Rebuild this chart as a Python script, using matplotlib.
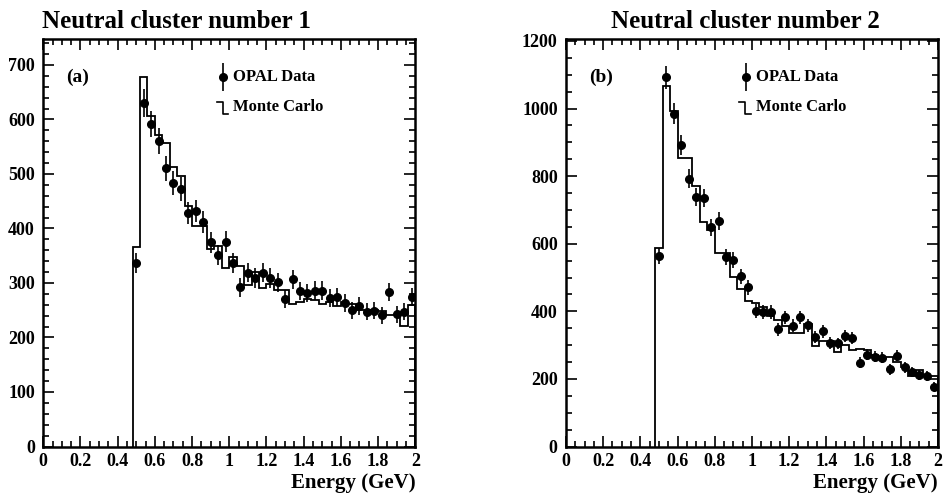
import numpy as np
import matplotlib
matplotlib.use("Agg")
import matplotlib.pyplot as plt
from matplotlib.ticker import MultipleLocator

plt.rcParams["font.family"] = ["Liberation Serif", "DejaVu Serif"]
plt.rcParams["font.weight"] = "bold"

# 0.04 GeV bins from 0.48 to 2.0 GeV
bin_edges = np.round(np.arange(0.48, 2.0001, 0.04), 2)
bin_centres = 0.5 * (bin_edges[:-1] + bin_edges[1:])

# neutral cluster 1
data1 = [336, 630, 592, 561, 510, 484, 472, 428, 432, 412,
         375, 351, 376, 337, 292, 319, 309, 319, 309, 301,
         270, 307, 285, 282, 286, 286, 272, 274, 263, 250,
         258, 247, 249, 241, 283, 243, 247, 275]
mc1 = [366, 678, 607, 572, 557, 512, 496, 441, 405, 405,
       363, 367, 327, 348, 331, 296, 321, 290, 298, 287,
       287, 261, 266, 270, 268, 261, 266, 257, 266, 261,
       250, 250, 250, 249, 241, 241, 221, 260]

# neutral cluster 2
data2 = [563, 1092, 985, 893, 793, 738, 735, 649, 667, 561,
         551, 504, 471, 401, 398, 398, 347, 382, 357, 382,
         359, 323, 341, 307, 305, 327, 320, 248, 272, 265,
         263, 228, 268, 234, 221, 211, 209, 177]
mc2 = [586, 1066, 993, 853, 853, 770, 665, 640, 573, 573,
       502, 465, 430, 425, 413, 386, 374, 358, 335, 335,
       362, 297, 313, 313, 280, 300, 285, 290, 286, 272,
       264, 264, 250, 234, 209, 226, 210, 208]

panels = [
    ("Neutral cluster number 1", "(a)", data1, mc1, 747, 100, 20),
    ("Neutral cluster number 2", "(b)", data2, mc2, 1205, 200, 50),
]
title_x = [0.045, 0.648]
axes_left = [0.0459, 0.6002]

fig = plt.figure(figsize=(9.43, 4.98), dpi=100)

for i, (title, tag, data, mc, ymax, ymaj, ymin) in enumerate(panels):
    ax = fig.add_axes([axes_left[i], 0.1034, 0.3945, 0.8177])
    data = np.array(data, dtype=float)

    ax.stairs(mc, bin_edges, baseline=0, color="black", linewidth=1.3)
    ax.errorbar(bin_centres, data, yerr=np.sqrt(data), fmt="o", color="black",
                markersize=5.5, elinewidth=1.2, capsize=0)

    ax.set_xlim(0, 2)
    ax.set_ylim(0, ymax)
    ax.xaxis.set_minor_locator(MultipleLocator(0.05))
    ax.yaxis.set_major_locator(MultipleLocator(ymaj))
    ax.yaxis.set_minor_locator(MultipleLocator(ymin))
    ax.set_xticks(np.round(np.arange(0, 2.01, 0.2), 1))
    ax.set_xticklabels(["0", "0.2", "0.4", "0.6", "0.8", "1",
                        "1.2", "1.4", "1.6", "1.8", "2"])
    ax.tick_params(which="both", direction="in", top=True, right=True,
                   labelsize=13, width=1.2)
    ax.tick_params(which="major", length=8, pad=6)
    ax.tick_params(which="minor", length=4)
    ax.tick_params(axis="x", which="major", pad=5)
    for lbl in ax.get_xticklabels() + ax.get_yticklabels():
        lbl.set_fontweight("bold")
    for sp in ax.spines.values():
        sp.set_linewidth(1.8)

    ax.set_xlabel("Energy (GeV)", fontsize=15, fontweight="bold", loc="right",
                  labelpad=2)

    # panel tag and hand-made legend
    ax.text(0.062, 0.907, tag, transform=ax.transAxes, fontsize=14,
            fontweight="bold", va="center", ha="left")
    ax.errorbar([0.483], [0.907], yerr=[0.035], fmt="o", color="black",
                markersize=5.5, elinewidth=1.2, transform=ax.transAxes,
                clip_on=False)
    ax.text(0.51, 0.907, "OPAL Data", transform=ax.transAxes, fontsize=12,
            fontweight="bold", va="center", ha="left")
    ax.plot([0.466, 0.482, 0.482, 0.497], [0.846, 0.846, 0.817, 0.817],
            color="black", linewidth=1.2, transform=ax.transAxes)
    ax.text(0.51, 0.834, "Monte Carlo", transform=ax.transAxes, fontsize=12,
            fontweight="bold", va="center", ha="left")

    fig.text(title_x[i], 0.944, title, fontsize=18, fontweight="bold",
             ha="left", va="baseline")

fig.savefig("out.png", dpi=100)
